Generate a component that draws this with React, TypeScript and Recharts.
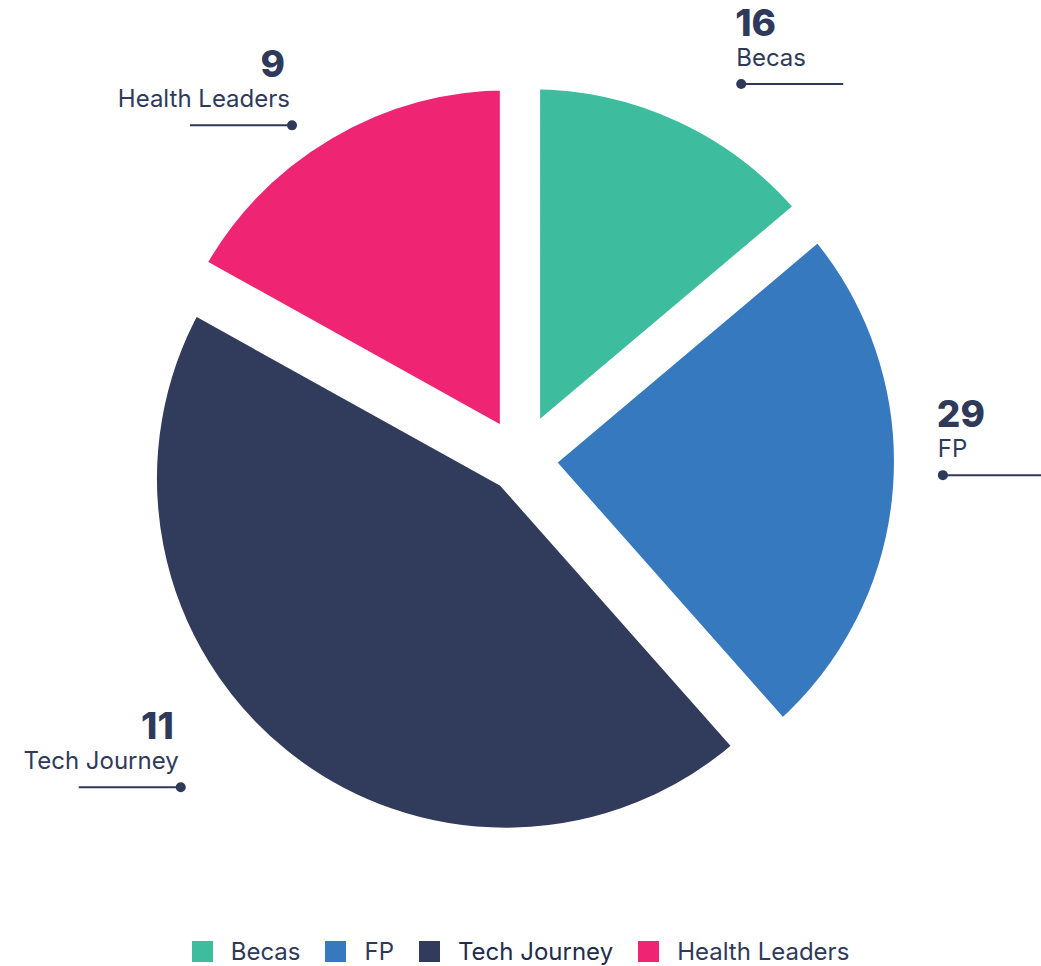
import React from "react";
import { PieChart, Pie, Legend, Sector } from "recharts";

// slice sizes as they are drawn
const categories = ["Becas", "FP", "Tech Journey", "Health Leaders"];
const sliceValues = [9, 16, 29, 11];
// numbers printed in the callouts
const calloutValues = [16, 29, 11, 9];

const COLORS = ["#3dbc9e", "#3679bf", "#313b5b", "#ef2473"];
const TEXT = "#2f3a5a";
const FONT = "Inter, 'Noto Sans', sans-serif";

const CX = 521;
const CY = 460;
const RADIUS = 358;
const EXPLODE = 24;
const LABEL_R = 430;
const RAD = Math.PI / 180;

// hand placement of the callout dots, relative to the mid angle point
const LABEL_NUDGE: [number, number][] = [
  [39, 14],
  [-7, -16],
  [-71, -8],
  [-11, 36],
];

const data = categories.map((name, i) => ({ name, value: sliceValues[i] }));

// the base sectors are left empty; each slice is redrawn here, pulled out along its mid angle,
// together with its callout
const renderSlice = (props: any) => {
  const { cx, cy, midAngle, startAngle, endAngle, outerRadius, index } = props;
  const ux = Math.cos(-midAngle * RAD);
  const uy = Math.sin(-midAngle * RAD);
  const dotX = cx + LABEL_R * ux + LABEL_NUDGE[index][0];
  const dotY = cy + LABEL_R * uy + LABEL_NUDGE[index][1];
  const right = ux > 0;
  const lineEnd = right ? dotX + 102 : dotX - 102;

  return (
    <g key={`slice-${index}`}>
      <Sector
        cx={cx + EXPLODE * ux}
        cy={cy + EXPLODE * uy}
        innerRadius={0}
        outerRadius={outerRadius}
        startAngle={startAngle}
        endAngle={endAngle}
        fill={COLORS[index]}
        stroke="#fff"
        strokeWidth={18}
      />
      <line x1={dotX} y1={dotY} x2={lineEnd} y2={dotY} stroke={TEXT} strokeWidth={2} />
      <circle cx={dotX} cy={dotY} r={5} fill={TEXT} />
      <text
        x={right ? dotX - 6 : dotX - 7}
        y={dotY - 48}
        textAnchor={right ? "start" : "end"}
        fontFamily={FONT}
        fontSize={37}
        fontWeight={800}
        fill={TEXT}
      >
        {calloutValues[index]}
      </text>
      <text
        x={right ? dotX - 5 : dotX - 2}
        y={dotY - 18}
        textAnchor={right ? "start" : "end"}
        fontFamily={FONT}
        fontSize={24}
        fill={TEXT}
      >
        {categories[index]}
      </text>
    </g>
  );
};

const renderLegend = () => (
  <div
    style={{
      display: "flex",
      justifyContent: "center",
      alignItems: "center",
      height: 29,
      fontFamily: FONT,
      fontSize: 24,
      color: TEXT,
    }}
  >
    {categories.map((name, i) => (
      <div
        key={name}
        style={{
          display: "flex",
          alignItems: "center",
          marginRight: i < categories.length - 1 ? 25 : 0,
        }}
      >
        <span
          style={{
            display: "inline-block",
            width: 21,
            height: 21,
            background: COLORS[i],
            marginRight: 18,
          }}
        />
        <span style={{ color: name === "Tech Journey" ? "#222c4a" : TEXT }}>{name}</span>
      </div>
    ))}
  </div>
);

export default function App() {
  return (
    <div style={{ position: "absolute", left: 0, top: 0 }}>
      <PieChart width={1041} height={966} margin={{ top: 0, right: 0, bottom: 0, left: 0 }}>
        <Pie
          data={data}
          dataKey="value"
          nameKey="name"
          cx={CX}
          cy={CY}
          innerRadius={0}
          outerRadius={RADIUS}
          startAngle={90}
          endAngle={-270}
          fill="none"
          stroke="none"
          label={renderSlice}
          labelLine={false}
          isAnimationActive={false}
        />
        <Legend verticalAlign="bottom" wrapperStyle={{ bottom: 0 }} content={renderLegend} />
      </PieChart>
    </div>
  );
}
